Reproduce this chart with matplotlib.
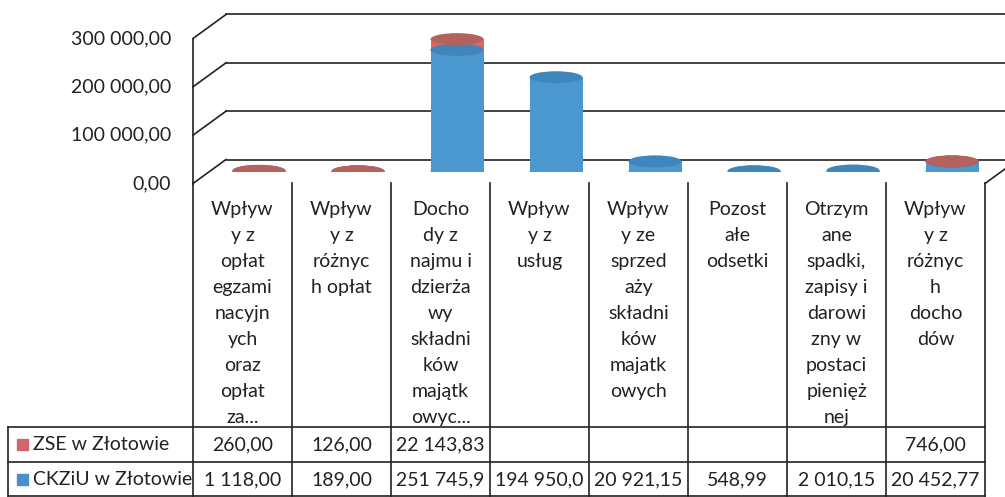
import matplotlib.pyplot as plt
from matplotlib.patches import Ellipse, Rectangle

plt.rcParams['font.family'] = ['Lato', 'DejaVu Sans']

# dane
categories = [
    'Wpływ\ny z\nopłat\negzami\nnacyjn\nych\noraz\nopłat\nza...',
    'Wpływ\ny z\nróżnyc\nh opłat',
    'Docho\ndy z\nnajmu i\ndzierża\nwy\nskładni\nków\nmajątk\nowyc...',
    'Wpływ\ny z\nusług',
    'Wpływ\ny ze\nsprzed\naży\nskładni\nków\nmajatk\nowych',
    'Pozost\nałe\nodsetki',
    'Otrzym\nane\nspadki,\nzapisy i\ndarowi\nzny w\npostaci\npienięż\nnej',
    'Wpływ\ny z\nróżnyc\nh\ndocho\ndów',
]
series = ['ZSE w Złotowie', 'CKZiU w Złotowie']
zse = [260.00, 126.00, 22143.83, 0, 0, 0, 0, 746.00]
ckziu = [1118.00, 189.00, 251745.90, 194950.00, 20921.15, 548.99, 2010.15, 20452.77]
zse_text = ['260,00', '126,00', '22 143,83', '', '', '', '', '746,00']
ckziu_text = ['1 118,00', '189,00', '251 745,9', '194 950,0', '20 921,15', '548,99', '2 010,15', '20 452,77']
yticks = [0, 100000, 200000, 300000]

def fmt(v):
    return f'{v:,.2f}'.replace(',', ' ').replace('.', ',')

W, H = 1005, 497
fig = plt.figure(figsize=(W / 100, H / 100), dpi=100)

# obszar wykresu (plaszczyzna srodkowa 3D)
ax = fig.add_axes([209.5 / W, (H - 171.5) / H, 792 / W, 145 / H])
ax.set_xlim(-0.5, 7.5)
ax.set_ylim(0, 300000)
ax.axis('off')

px_x = 99.0
px_y = 145 / 300000
DX = 16.5 / px_x
DY = 12 / px_y
line_kw = dict(color='#222222', lw=1.2, clip_on=False)

for v in yticks:
    ax.plot([-0.5 + DX, 7.5 + DX], [v + DY, v + DY], **line_kw)
    ax.plot([-0.5 - DX, -0.5 + DX], [v - DY, v + DY], **line_kw)
    ax.text(-0.5 - DX - 22 / px_x, v - DY, fmt(v), ha='right', va='center',
            fontsize=14, color='#222222')
ax.plot([-0.5 - DX, -0.5 - DX], [-DY, 300000 - DY], **line_kw)
ax.plot([7.5 - DX, 7.5 + DX], [-DY, DY], **line_kw)

# cylindry
cw = 53 / px_x
eh = 12 / px_y
blue_side, blue_top = '#4b97cf', '#3f86bd'
red_side, red_top = '#d66a63', '#b5625c'


def cylinder(x, y0, y1, side, top):
    ax.add_patch(Ellipse((x, y0), cw, eh, color=side, lw=0, zorder=3))
    ax.add_patch(Rectangle((x - cw / 2, y0), cw, y1 - y0, color=side, lw=0, zorder=3))
    ax.add_patch(Ellipse((x, y1), cw, eh, color=top, lw=0, zorder=4))


for i in range(len(categories)):
    cylinder(i, 0, ckziu[i], blue_side, blue_top)
    if zse[i] > 0:
        cylinder(i, ckziu[i], ckziu[i] + zse[i], red_side, red_top)

# tabela danych
top_y, bot_y = 183.5, 496
tab = fig.add_axes([193 / W, (H - bot_y) / H, 792 / W, (bot_y - top_y) / H])
tab.set_xlim(-0.5, 7.5)
tab.set_ylim(bot_y, top_y)
tab.axis('off')
left = -0.5 - 185 / px_x
tk = dict(color='#222222', lw=1.2, clip_on=False)

for k in range(len(categories) + 1):
    tab.plot([k - 0.5, k - 0.5], [top_y, bot_y], **tk)
for yy in [427, 462, 496]:
    tab.plot([left, 7.5], [yy, yy], **tk)
tab.plot([left, left], [427, 496], **tk)

for i, lab in enumerate(categories):
    for j, part in enumerate(lab.split('\n')):
        tab.text(i, 210 + 26 * j, part, ha='center', va='center',
                 fontsize=14, color='#222222')
    tab.text(i, 445, zse_text[i], ha='center', va='center', fontsize=14, color='#222222')
    tab.text(i, 480, ckziu_text[i], ha='center', va='center', fontsize=14, color='#222222')

for yy, name, c in [(445, series[0], '#d0666c'), (480, series[1], '#4a8fcc')]:
    tab.add_patch(Rectangle((left + 9 / px_x, yy - 5.5), 11 / px_x, 11, color=c,
                            clip_on=False))
    tab.text(left + 25 / px_x, yy, name, ha='left', va='center', fontsize=14,
             color='#222222', clip_on=False)

fig.savefig('out.png', dpi=100)
